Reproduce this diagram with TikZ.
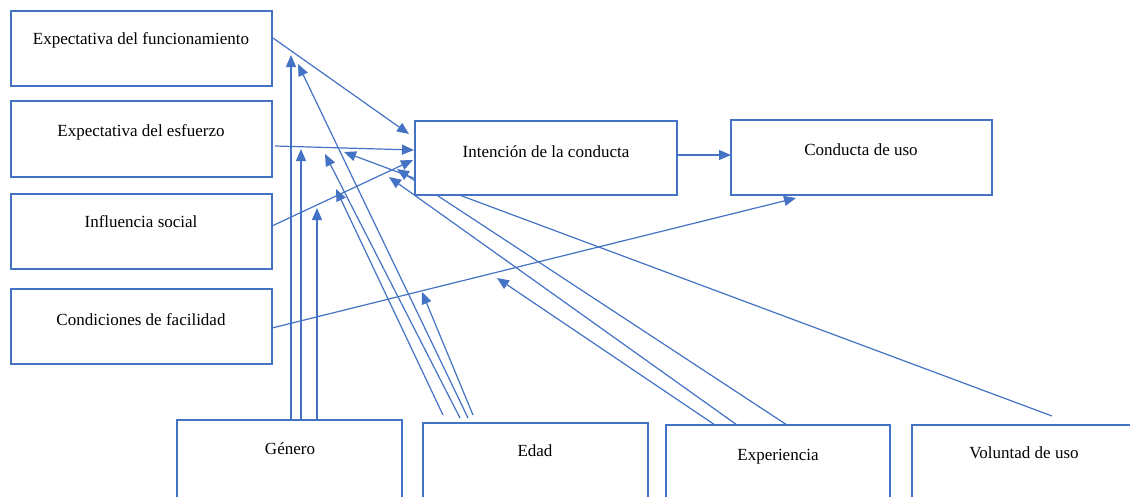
\documentclass[tikz,border=0pt]{standalone}
\usepackage{fontspec}
\setmainfont{Liberation Serif}
\usetikzlibrary{arrows.meta}
\definecolor{officeblue}{RGB}{68,114,196}
\tikzset{
  box/.style={draw=officeblue, line width=1.4pt, fill=white, inner sep=0pt},
  lbl/.style={inner sep=0pt, font=\fontsize{17}{20}\selectfont, text=black},
  link/.style={draw=officeblue, line width=1.2pt, -{Triangle[length=12pt,width=10pt]}},
}
\begin{document}
\begin{tikzpicture}[x=1pt,y=-1pt]
\useasboundingbox (0,0) rectangle (1130,496);
\clip (0,0) rectangle (1130,496);
\fill[white] (0,0) rectangle (1130,496);

% end points of the connectors
\coordinate (funOut) at (273,38);   \coordinate (funTip) at (409,134);
\coordinate (esfOut) at (275,146);  \coordinate (esfTip) at (414,150);
\coordinate (infOut) at (272,226);  \coordinate (infTip) at (413,160);
\coordinate (conOut) at (272,328);  \coordinate (conTip) at (796,198);
\coordinate (intOut) at (677,155);  \coordinate (cduTip) at (731,155);
% Genero
\coordinate (g1) at (291,420); \coordinate (g1t) at (291,55);
\coordinate (g2) at (301,420); \coordinate (g2t) at (301,149);
\coordinate (g3) at (317,420); \coordinate (g3t) at (317,208);
% Edad
\coordinate (e1) at (468,418); \coordinate (e1t) at (298,64);
\coordinate (e2) at (460,418); \coordinate (e2t) at (325,154);
\coordinate (e3) at (443,415); \coordinate (e3t) at (336,189);
\coordinate (e4) at (473,415); \coordinate (e4t) at (422,292);
% Experiencia
\coordinate (x1) at (787,425); \coordinate (x1t) at (397,169);
\coordinate (x2) at (737,425); \coordinate (x2t) at (389,177);
\coordinate (x3) at (715,425); \coordinate (x3t) at (497,278);
% Voluntad de uso
\coordinate (v1) at (1052,416); \coordinate (v1t) at (344,152);

% connectors (boxes are drawn over them)
\draw[link] (funOut) -- (funTip);
\draw[link] (esfOut) -- (esfTip);
\draw[link] (infOut) -- (infTip);
\draw[link] (conOut) -- (conTip);
\draw[link] (intOut) -- (cduTip);
\draw[link] (g1) -- (g1t);
\draw[link] (g2) -- (g2t);
\draw[link] (g3) -- (g3t);
\draw[link] (e1) -- (e1t);
\draw[link] (e2) -- (e2t);
\draw[link] (e3) -- (e3t);
\draw[link] (e4) -- (e4t);
\draw[link] (x1) -- (x1t);
\draw[link] (x2) -- (x2t);
\draw[link] (x3) -- (x3t);
\draw[link] (v1) -- (v1t);

% boxes
\draw[box] (11,11) rectangle (272,86) coordinate (funBox);
\draw[box] (11,101) rectangle (272,177) coordinate (esfBox);
\draw[box] (11,194) rectangle (272,269) coordinate (infBox);
\draw[box] (11,289) rectangle (272,364) coordinate (conBox);
\draw[box] (415,121) rectangle (677,195) coordinate (intBox);
\draw[box] (731,120) rectangle (992,195) coordinate (cduBox);
\draw[box] (177,420) rectangle (402,520) coordinate (genBox);
\draw[box] (423,423) rectangle (648,520) coordinate (edaBox);
\draw[box] (666,425) rectangle (890,520) coordinate (expBox);
\draw[box] (912,425) rectangle (1160,520) coordinate (volBox);

% texts
\node[lbl] (fun) at (141,40)  {Expectativa del funcionamiento};
\node[lbl] (esf) at (141,132) {Expectativa del esfuerzo};
\node[lbl] (inf) at (141,222) {Influencia social};
\node[lbl] (con) at (141,320) {Condiciones de facilidad};
\node[lbl] (int) at (546,152) {Intención de la conducta};
\node[lbl] (cdu) at (861,150) {Conducta de uso};
\node[lbl] (gen) at (290,449) {Género};
\node[lbl] (eda) at (535,451) {Edad};
\node[lbl] (exp) at (778,457) {Experiencia};
\node[lbl] (vol) at (1024,453) {Voluntad de uso};
\end{tikzpicture}
\end{document}
